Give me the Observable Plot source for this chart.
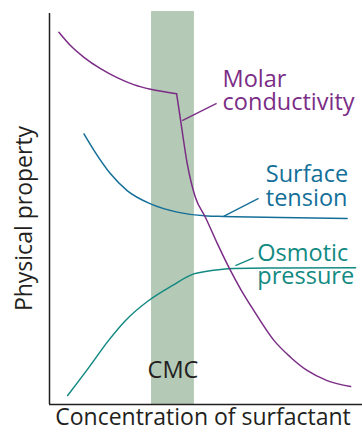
<!DOCTYPE html>
<html>
<head>
<meta charset="utf-8">
<script src="https://cdn.jsdelivr.net/npm/d3@7"></script>
<script src="https://cdn.jsdelivr.net/npm/@observablehq/plot@0.6"></script>
<style>
  html, body { margin: 0; padding: 0; background: #fff; }
  svg { display: block; }
</style>
</head>
<body>
<div id="chart"></div>
<script>
// Concentration (arbitrary units) and physical property (arbitrary units)
const molarConc = [0.30, 0.67, 1.10, 1.63, 2.16, 2.69, 3.23, 4.06, 4.19, 4.40, 4.66, 4.98, 5.36, 5.78, 6.10, 6.53, 7.17, 7.70, 8.23, 8.87, 9.62];
const molarConductivity = [9.52, 9.18, 8.88, 8.59, 8.36, 8.18, 8.06, 7.95, 7.26, 6.16, 5.30, 4.79, 4.12, 3.43, 2.96, 2.40, 1.64, 1.21, 0.87, 0.61, 0.46];
const molarKinkIndex = 7; // the break in slope at the CMC

const surfaceConc = [1.10, 1.42, 1.95, 2.48, 3.23, 4.08, 5.04, 5.57, 7.38, 9.51];
const surfaceTension = [6.92, 6.50, 5.90, 5.47, 5.13, 4.92, 4.82, 4.81, 4.78, 4.76];

const osmoticConc = [0.58, 1.26, 1.89, 2.43, 3.17, 3.92, 4.61, 4.98, 5.88, 7.38, 9.78];
const osmoticPressure = [0.23, 0.95, 1.64, 2.15, 2.66, 3.04, 3.34, 3.40, 3.48, 3.49, 3.50];

const cmcRange = [3.26, 4.63];

const seriesNames = ["Molar conductivity", "Surface tension", "Osmotic pressure"];
const seriesColors = ["#7b2d86", "#146f98", "#128a82"];

const labelTexts = ["Molar\nconductivity", "Surface\ntension", "Osmotic\npressure"];
const labelAnchorX = [5.53, 6.91, 6.64];
const labelAnchorY = [8.015, 5.57, 3.57];

// leader lines: from curve point to label
const leaderFromX = [4.24, 5.56, 5.94];
const leaderFromY = [7.26, 4.81, 3.55];
const leaderToX = [5.34, 6.68, 6.52];
const leaderToY = [7.70, 5.27, 3.75];

const xTitle = "Concentration of surfactant";
const yTitle = "Physical property";
const cmcLabel = "CMC";
const cmcLabelY = 0.86;

const toRows = (xs, ys) => xs.map((x, i) => ({x, y: ys[i]}));
const molar = molarConc.flatMap((x, i) => {
  const rows = [];
  if (i <= molarKinkIndex) rows.push({x, y: molarConductivity[i], part: "before"});
  if (i >= molarKinkIndex) rows.push({x, y: molarConductivity[i], part: "after"});
  return rows;
});
const surface = toRows(surfaceConc, surfaceTension);
const osmotic = toRows(osmoticConc, osmoticPressure);

const labels = labelTexts.map((t, i) => ({text: t, x: labelAnchorX[i], y: labelAnchorY[i], color: seriesColors[i]}));
const leaders = leaderFromX.map((x, i) => ({
  x1: x, y1: leaderFromY[i], x2: leaderToX[i], y2: leaderToY[i], color: seriesColors[i]
}));

const font = "'Open Sans', sans-serif";
const chart = Plot.plot({
  width: 362,
  height: 436,
  marginLeft: 49,
  marginRight: 0,
  marginTop: 13,
  marginBottom: 32,
  x: {domain: [0, 10], axis: null},
  y: {domain: [0, 10], axis: null},
  style: {fontFamily: font, background: "#fff"},
  marks: [
    Plot.rect([{x1: cmcRange[0], x2: cmcRange[1]}], {x1: "x1", x2: "x2", y1: 0, y2: 10.05, fill: "#b4c9b6"}),
    Plot.text([cmcLabel], {x: (cmcRange[0] + cmcRange[1]) / 2, y: cmcLabelY, text: d => d, fontSize: 23.5, fill: "#231f20"}),
    Plot.line(surface, {x: "x", y: "y", stroke: seriesColors[1], strokeWidth: 1.5, curve: "monotone-x"}),
    Plot.line(osmotic, {x: "x", y: "y", stroke: seriesColors[2], strokeWidth: 1.5, curve: "monotone-x"}),
    Plot.line(molar, {x: "x", y: "y", z: "part", stroke: seriesColors[0], strokeWidth: 1.5, curve: "monotone-x"}),
    Plot.link(leaders, {x1: "x1", y1: "y1", x2: "x2", y2: "y2", stroke: "color", strokeWidth: 1.3}),
    Plot.text(labels, {x: "x", y: "y", text: "text", fill: "color", textAnchor: "start", fontSize: 23.5, lineHeight: 1.0}),
    Plot.ruleX([0], {y1: 0, y2: 10, stroke: "#231f20", strokeWidth: 1.5}),
    Plot.ruleY([0], {stroke: "#231f20", strokeWidth: 1.5}),
    Plot.text([xTitle], {frameAnchor: "bottom", text: d => d, dy: 20.6, dx: -3, fontSize: 23, fill: "#231f20"}),
    Plot.text([yTitle], {frameAnchor: "left", textAnchor: "middle", text: d => d, dx: -25, dy: 9.5, rotate: -90, fontSize: 23, fill: "#231f20"})
  ]
});
document.getElementById("chart").appendChild(chart);
</script>
</body>
</html>
